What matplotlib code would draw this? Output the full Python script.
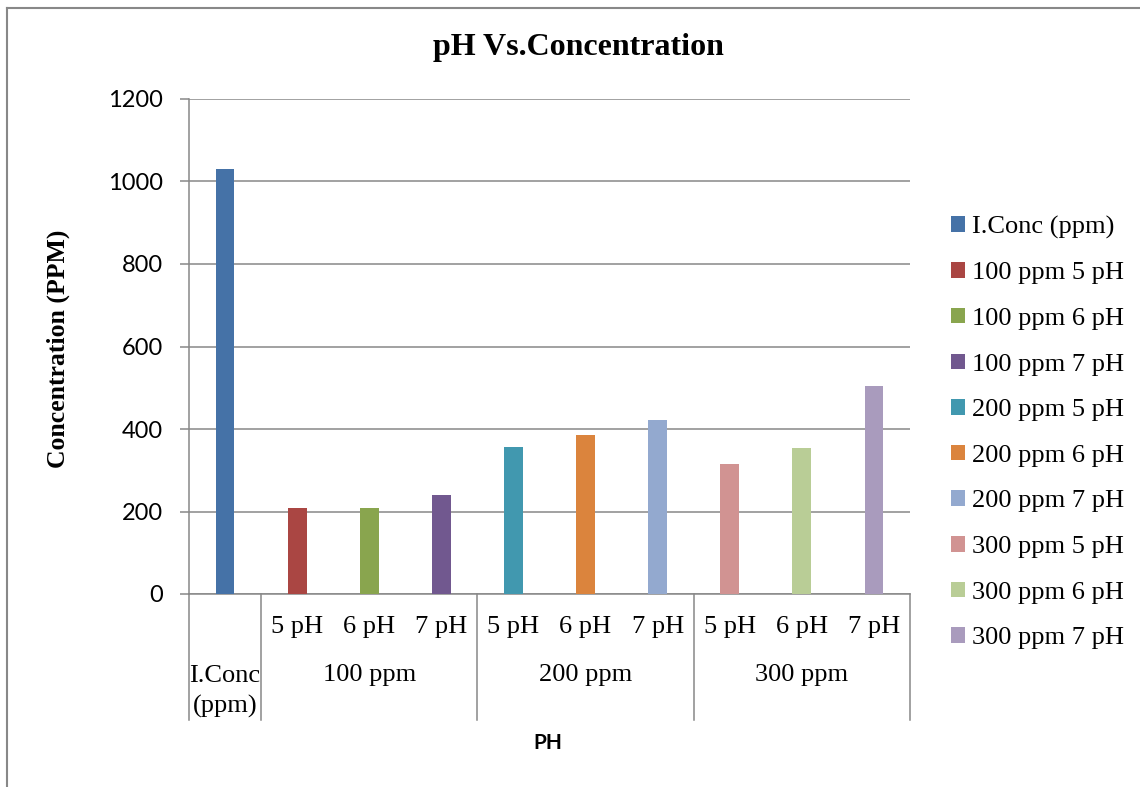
#importing libraries
import numpy as np
import matplotlib.pyplot as plt
from matplotlib.lines import Line2D
import matplotlib.transforms as mtransforms

# data
series_names = ["I.Conc (ppm)", "100 ppm 5 pH", "100 ppm 6 pH", "100 ppm 7 pH",
                "200 ppm 5 pH", "200 ppm 6 pH", "200 ppm 7 pH",
                "300 ppm 5 pH", "300 ppm 6 pH", "300 ppm 7 pH"]
values = [1030, 208, 208, 240, 356, 385, 423, 315, 355, 505]
ph_labels = ["", "5 pH", "6 pH", "7 pH", "5 pH", "6 pH", "7 pH", "5 pH", "6 pH", "7 pH"]
group_labels = ["I.Conc\n(ppm)", "100 ppm", "200 ppm", "300 ppm"]
group_sizes = [1, 3, 3, 3]
colors = ["#4572A7", "#AA4643", "#89A54E", "#71588F", "#4198AF",
          "#DB843D", "#93A9CF", "#D19392", "#B9CD96", "#A99BBD"]

grey = "#888888"
serif = "Liberation Serif"
sans = "Lato"

fig = plt.figure(figsize=(11.4, 7.87), dpi=100)
ax = fig.add_axes([189/1140, 1-594/787, 721/1140, 495/787])

x = np.arange(len(values))
for i in range(len(values)):
    ax.bar(x[i], values[i], width=0.26, color=colors[i], label=series_names[i], zorder=3)

ax.set_xlim(-0.5, len(values)-0.5)
ax.set_ylim(0, 1200)
ax.set_yticks(np.arange(0, 1201, 200))
ax.yaxis.grid(True, color=grey, linewidth=1.1, zorder=0)
ax.tick_params(axis='y', length=6.5, width=1.1, color=grey, pad=12, labelsize=17)
for lab in ax.get_yticklabels():
    lab.set_fontfamily(sans)
ax.set_xticks([])
for s in ["top", "right"]:
    ax.spines[s].set_visible(False)
for s in ["left", "bottom"]:
    ax.spines[s].set_color(grey)
    ax.spines[s].set_linewidth(1.1)

# multi-level category axis
trans = mtransforms.blended_transform_factory(ax.transData, ax.transAxes)
for i, lab in enumerate(ph_labels):
    ax.text(x[i], -0.0667, lab, transform=trans, ha='center', va='center',
            fontsize=19, fontfamily=serif)

start = 0
bounds = [-0.5]
for g, n in zip(group_labels, group_sizes):
    center = start + (n - 1) / 2
    if n == 1:
        # the single-bar group has a two-line label
        ax.text(center, -0.197, g, transform=trans, ha='center', va='center',
                fontsize=19, fontfamily=serif, linespacing=1.4)
    else:
        ax.text(center, -0.1636, g, transform=trans, ha='center', va='center',
                fontsize=19, fontfamily=serif)
    start += n
    bounds.append(start - 0.5)
for b in bounds:
    ax.add_line(Line2D([b, b], [0, -0.2545], transform=trans, color=grey,
                       linewidth=1.1, clip_on=False))

fig.text(578/1140, 1-47/787, "pH Vs.Concentration", ha='center', va='center',
         fontsize=23, fontweight='bold', fontfamily=serif)
fig.text(58/1140, 1-349/787, "Concentration (PPM)", ha='center', va='center', rotation=90,
         fontsize=18.5, fontweight='bold', fontfamily=serif)
fig.text(548/1140, 1-743/787, "PH", ha='center', va='center',
         fontsize=15, fontweight='bold', fontfamily=sans)

fig.legend(loc='center left', bbox_to_anchor=(951/1140, 1-432.5/787), frameon=False,
           borderaxespad=0, borderpad=0, handlelength=0.53, handleheight=0.53,
           handletextpad=0.25, labelspacing=0.89, prop={'family': serif, 'size': 19})

# outer chart border (left and top only visible)
fig.add_artist(Line2D([7/1140, 7/1140], [0, 1-8/787], color=grey, linewidth=1.5))
fig.add_artist(Line2D([7/1140, 1], [1-8/787, 1-8/787], color=grey, linewidth=1.5))

plt.savefig("out.png", dpi=100)
